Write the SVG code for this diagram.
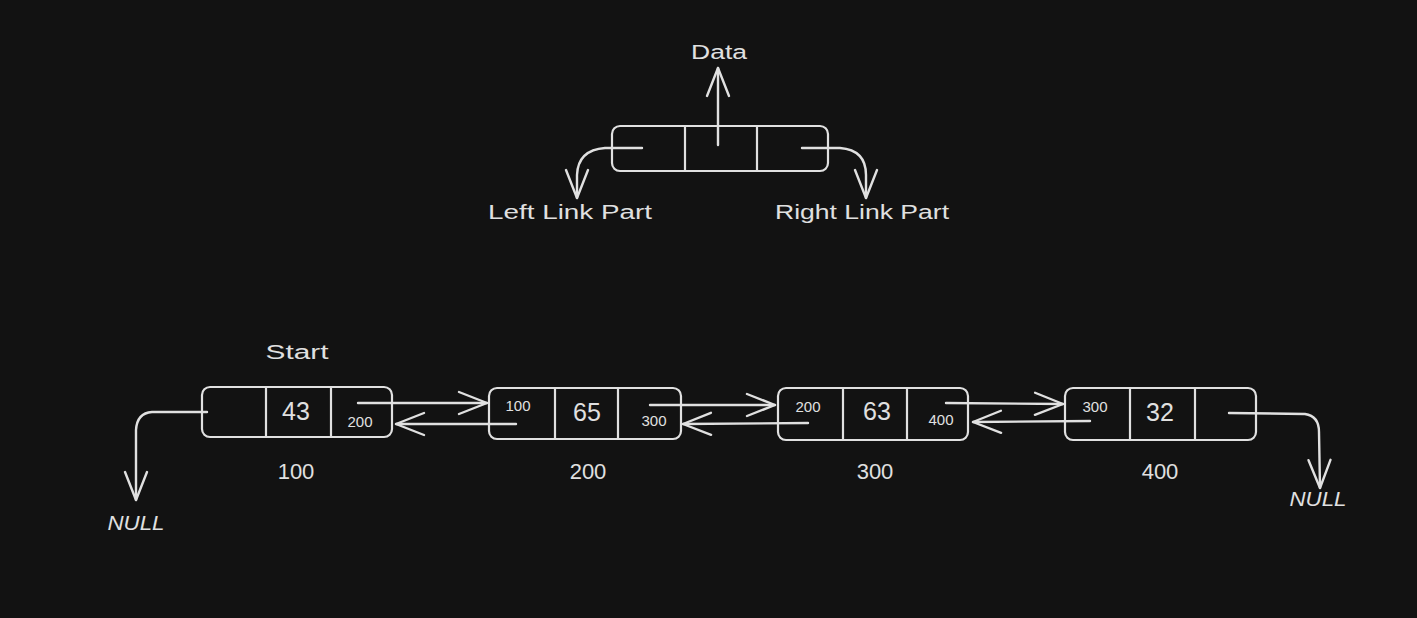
<svg xmlns="http://www.w3.org/2000/svg" width="1417" height="618" viewBox="0 0 1417 618">
<style>
.box{fill:none;stroke:#e0e0e0;stroke-width:2.2;stroke-linejoin:round}
.ln{fill:none;stroke:#e0e0e0;stroke-width:2.2;stroke-linecap:round}
.arr{fill:none;stroke:#e0e0e0;stroke-width:2.4;stroke-linecap:round;stroke-linejoin:round;marker-end:url(#ah)}
text{fill:#e0e0e0;font-family:"Liberation Sans","DejaVu Sans",sans-serif;text-anchor:middle;dominant-baseline:central}
.lbl{font-size:20px}
.num{font-size:22px}
.big{font-size:25px}
.sm{font-size:15px}
.nul{font-size:20px;font-style:italic}
</style>
<defs>
<marker id="ah" markerUnits="userSpaceOnUse" viewBox="-32 -15 35 30" refX="0" refY="0" markerWidth="35" markerHeight="30" orient="auto" overflow="visible">
<path d="M-28,-11 L0,0 L-28,11" fill="none" stroke="#e0e0e0" stroke-width="2.4" stroke-linecap="round" stroke-linejoin="round"/>
</marker>
</defs>
<rect width="1417" height="618" fill="#121212"/>

<g id="legend-node">
<rect class="box" x="612" y="126" width="216" height="45" rx="8"/>
<line class="ln" x1="685" y1="126" x2="685" y2="171"/>
<line class="ln" x1="757" y1="126" x2="757" y2="171"/>
</g>
<g id="legend-labels">
<text class="lbl" x="719" y="52" textLength="56" lengthAdjust="spacingAndGlyphs">Data</text>
<text class="lbl" x="570" y="212" textLength="164" lengthAdjust="spacingAndGlyphs">Left Link Part</text>
<text class="lbl" x="862" y="212" textLength="174" lengthAdjust="spacingAndGlyphs">Right Link Part</text>
</g>

<g id="node1">
<rect class="box" x="202" y="387" width="190" height="50" rx="8"/>
<line class="ln" x1="266" y1="387" x2="266" y2="437"/>
<line class="ln" x1="331" y1="387" x2="331" y2="437"/>
<text class="big" x="296" y="411">43</text>
<text class="sm" x="360" y="421">200</text>
<text class="num" x="296" y="471">100</text>
<text class="lbl" x="297" y="352" textLength="63" lengthAdjust="spacingAndGlyphs">Start</text>
</g>
<g id="node2">
<rect class="box" x="489" y="388" width="192" height="51" rx="8"/>
<line class="ln" x1="555" y1="388" x2="555" y2="439"/>
<line class="ln" x1="618" y1="388" x2="618" y2="439"/>
<text class="sm" x="518" y="405">100</text>
<text class="big" x="587" y="412">65</text>
<text class="sm" x="654" y="420">300</text>
<text class="num" x="588" y="471">200</text>
</g>
<g id="node3">
<rect class="box" x="778" y="388" width="190" height="52" rx="8"/>
<line class="ln" x1="843" y1="388" x2="843" y2="440"/>
<line class="ln" x1="907" y1="388" x2="907" y2="440"/>
<text class="sm" x="808" y="406">200</text>
<text class="big" x="877" y="411">63</text>
<text class="sm" x="941" y="419">400</text>
<text class="num" x="875" y="471">300</text>
</g>
<g id="node4">
<rect class="box" x="1065" y="388" width="191" height="52" rx="8"/>
<line class="ln" x1="1130" y1="388" x2="1130" y2="440"/>
<line class="ln" x1="1195" y1="388" x2="1195" y2="440"/>
<text class="sm" x="1095" y="406">300</text>
<text class="big" x="1160" y="412">32</text>
<text class="num" x="1160" y="471">400</text>
</g>
<g id="null-left"><text class="nul" x="136" y="523" textLength="57" lengthAdjust="spacingAndGlyphs">NULL</text></g>
<g id="null-right"><text class="nul" x="1318" y="499" textLength="57" lengthAdjust="spacingAndGlyphs">NULL</text></g>

<g id="connectors">
<path class="arr" d="M718,145 L718,68"/>
<path class="arr" d="M642,148 L605,148 Q578,150 577,175 L577,198"/>
<path class="arr" d="M802,148 L840,148 Q866,150 866,175 L866,198"/>
<path class="arr" d="M358,403 L487,403"/>
<path class="arr" d="M516,424 L396,424"/>
<path class="arr" d="M650,405 L775,405"/>
<path class="arr" d="M808,423 L683,424"/>
<path class="arr" d="M946,403 L1063,404"/>
<path class="arr" d="M1090,421 L973,422"/>
<path class="arr" d="M207,412 L152,412 Q137,413 136,430 L136,500"/>
<path class="arr" d="M1229,413 L1305,414 Q1319,416 1319,432 L1320,488"/>
</g>
</svg>
